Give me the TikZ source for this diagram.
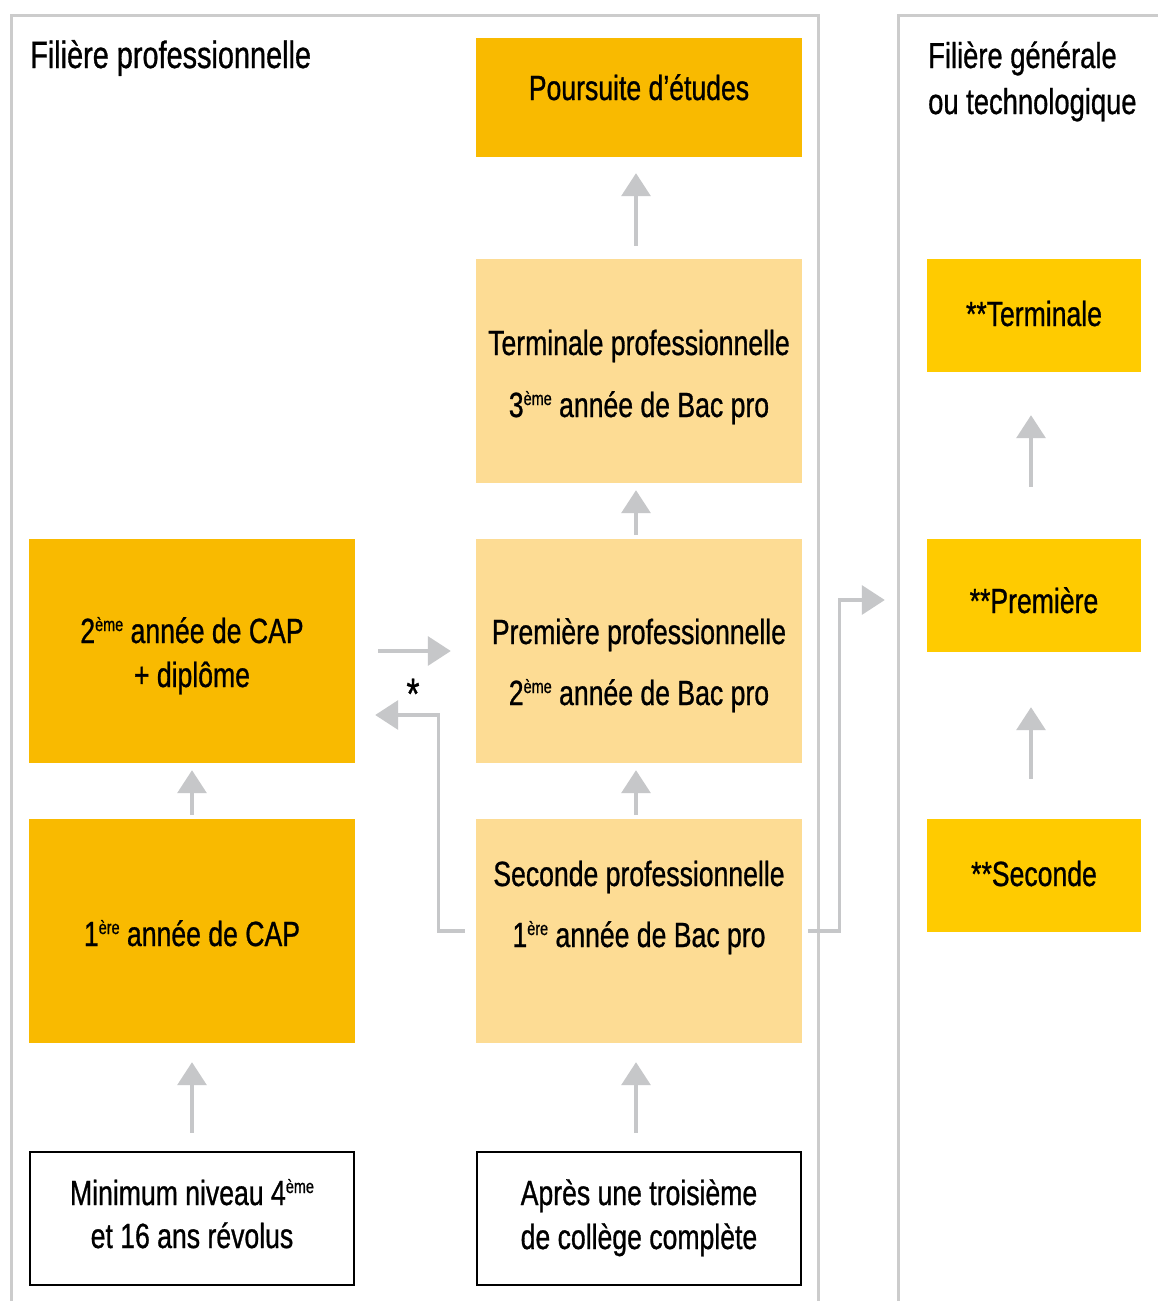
\documentclass[tikz,border=0pt]{standalone}
\usepackage{fontspec}
\setmainfont{Liberation Sans}[FakeStretch=0.76, FakeBold=0.8]
\usetikzlibrary{arrows.meta}
\definecolor{orangeA}{HTML}{F9BA00}
\definecolor{pale}{HTML}{FDDC94}
\definecolor{yel}{HTML}{FFCB00}
\definecolor{framegray}{HTML}{CCCCCC}
\definecolor{arrgray}{HTML}{C6C7C9}
\newcommand\expo[1]{\raisebox{12pt}{\fontsize{19}{19}\selectfont #1}}
\begin{document}
\begin{tikzpicture}[x=1pt,y=-1pt,
  box/.style={minimum width=326pt, minimum height=224pt, inner sep=0pt},
  orangebox/.style={box, fill=orangeA},
  palebox/.style={box, fill=pale},
  whitebox/.style={box, minimum width=324pt, minimum height=133pt, draw=black, line width=2.4pt, fill=white},
  yelbox/.style={box, minimum width=214pt, minimum height=113pt, fill=yel},
  txt/.style={inner sep=0pt, align=center, anchor=base, font=\fontsize{35}{44}\selectfont},
  title/.style={inner sep=0pt, align=left, anchor=base west, font=\fontsize{38}{46}\selectfont},
  arr/.style={color=arrgray, line width=3.3pt, -{Triangle[width=29pt,length=23pt]}},
  frame/.style={draw=framegray, line width=3pt}
]
\useasboundingbox (0,0) rectangle (1158,1301);
\fill[white] (0,0) rectangle (1158,1301);

% frames
\draw[frame] (11,1301) -- (11,15) -- (818,15) -- (818,1301);
\draw[frame] (898,1301) -- (898,15) -- (1158,15);

% titles
\node[title] (tpro) at (30,68) {Filière professionnelle};
\node[title, font=\fontsize{36}{46}\selectfont] (tgen) at (928,114) {Filière générale\\ou technologique};

% middle column boxes
\node[orangebox, minimum height=119pt] (pours) at (639,97.5) {};
\node[palebox] (term) at (639,371) {};
\node[palebox] (prem) at (639,651) {};
\node[palebox] (sec) at (639,931) {};
\node[whitebox] (apres) at (639,1218.5) {};
% left column boxes
\node[orangebox] (cap2) at (192,651) {};
\node[orangebox] (cap1) at (192,931) {};
\node[whitebox] (mini) at (192,1218.5) {};
% right column boxes
\node[yelbox] (gterm) at (1034,315.5) {};
\node[yelbox] (gprem) at (1034,595.5) {};
\node[yelbox] (gsec) at (1034,875.5) {};

% texts (anchored at the baseline of their last line)
\node[txt] (poursT) at (639,100) {Poursuite d’études};
\node[txt] (termT) at (639,417) {Terminale professionnelle\\[18pt]3\expo{ème} année de Bac pro};
\node[txt] (premT) at (639,705) {Première professionnelle\\[17pt]2\expo{ème} année de Bac pro};
\node[txt] (secT) at (639,947) {Seconde professionnelle\\[17pt]1\expo{ère} année de Bac pro};
\node[txt] (apresT) at (639,1249) {Après une troisième\\de collège complète};
\node[txt] (cap2T) at (192,687) {2\expo{ème} année de CAP\\+ diplôme};
\node[txt] (cap1T) at (192,946) {1\expo{ère} année de CAP};
\node[txt] (miniT) at (192,1248) {Minimum niveau 4\expo{ème}\\[-1pt]et 16 ans révolus};
\node[txt] (gtermT) at (1034,326) {**Terminale};
\node[txt] (gpremT) at (1034,613) {**Première};
\node[txt] (gsecT) at (1034,886) {**Seconde};

% vertical arrows
\draw[arr, shorten <=13pt, shorten >=16pt] ([xshift=-3pt]term.north) -- ([xshift=-3pt]pours.south);
\draw[arr, shorten <=4pt, shorten >=7pt] ([xshift=-3pt]prem.north) -- ([xshift=-3pt]term.south);
\draw[arr, shorten <=4pt, shorten >=7pt] ([xshift=-3pt]sec.north) -- ([xshift=-3pt]prem.south);
\draw[arr, shorten <=18pt, shorten >=19pt] ([xshift=-3pt]apres.north) -- ([xshift=-3pt]sec.south);
\draw[arr, shorten <=4pt, shorten >=7pt] (cap1) -- (cap2);
\draw[arr, shorten <=18pt, shorten >=19pt] (mini) -- (cap1);
\draw[arr, shorten <=52pt, shorten >=43pt] ([xshift=-3pt]gprem.north) -- ([xshift=-3pt]gterm.south);
\draw[arr, shorten <=40pt, shorten >=55pt] ([xshift=-3pt]gsec.north) -- ([xshift=-3pt]gprem.south);

% horizontal arrows
\draw[arr, shorten <=23pt, shorten >=25pt] (cap2) -- (prem);
\node[inner sep=0pt, anchor=base, font=\fontsize{44}{44}\selectfont] (star) at (413,709) {*};

\coordinate (s1) at ([xshift=-11pt]sec.west);
\coordinate (b1) at ([xshift=83pt, yshift=-64pt]cap2.east);
\coordinate (e1) at ([xshift=20pt, yshift=-64pt]cap2.east);
\draw[arr] (s1) -| (b1) -- (e1);

\coordinate (s2) at ([xshift=6pt]sec.east);
\coordinate (b2) at ([xshift=-87pt, yshift=-4.5pt]gprem.west);
\coordinate (e2) at ([xshift=-42pt, yshift=-4.5pt]gprem.west);
\draw[arr] (s2) -| (b2) -- (e2);
\end{tikzpicture}
\end{document}
